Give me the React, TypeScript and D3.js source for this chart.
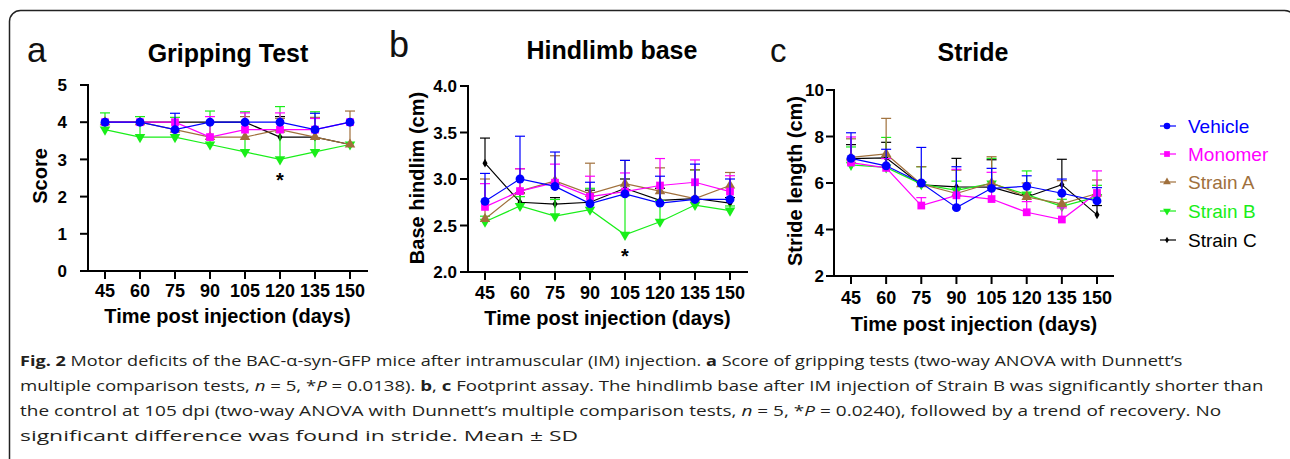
import React, { useEffect, useRef } from 'react';
import * as d3 from 'd3';

// sampling days (x axis)
const days = [45, 60, 75, 90, 105, 120, 135, 150];
const groups = ['Vehicle', 'Monomer', 'Strain A', 'Strain B', 'Strain C'];
const colors = ['#0000ff', '#ff00ff', '#a0703c', '#19ee19', '#000000'];

// a - gripping test score (rows follow groups)
const gripMean = [
  [4, 4, 3.8, 4, 4, 4, 3.8, 4],
  [4, 4, 4, 3.6, 3.8, 3.8, 3.8, 4],
  [4, 4, 3.8, 3.6, 3.6, 3.8, 3.6, 3.4],
  [3.8, 3.6, 3.6, 3.4, 3.2, 3.0, 3.2, 3.4],
  [4, 4, 4, 4, 4, 3.6, 3.6, 3.4],
];
const gripSD = [
  [0, 0, 0.44, 0, 0, 0, 0.44, 0],
  [0, 0, 0, 0.55, 0.45, 0.45, 0.3, 0],
  [0, 0, 0, 0, 0.55, 0.3, 0.53, 0.9],
  [0.45, 0.55, 0.53, 0.9, 1.08, 1.42, 1.08, 0],
  [0, 0, 0, 0, 0, 0.55, 0, 0],
];

// b - hindlimb base (cm)
const baseMean = [
  [2.76, 3.0, 2.92, 2.735, 2.84, 2.74, 2.78, 2.78],
  [2.7, 2.87, 2.96, 2.81, 2.865, 2.93, 2.965, 2.865],
  [2.57, 2.87, 2.98, 2.84, 2.95, 2.87, 2.79, 2.93],
  [2.54, 2.71, 2.6, 2.67, 2.4, 2.54, 2.72, 2.66],
  [3.17, 2.75, 2.73, 2.75, 2.9, 2.77, 2.79, 2.74],
];
const baseSD = [
  [0.3, 0.46, 0.37, 0.23, 0.36, 0.29, 0.38, 0.22],
  [0.25, 0.24, 0.2, 0.22, 0.2, 0.29, 0.24, 0.17],
  [0.43, 0.24, 0.27, 0.33, 0.25, 0.25, 0.31, 0.14],
  [0.06, 0.1, 0.18, 0.23, 0.42, 0.23, 0.38, 0.05],
  [0.27, 0.1, 0.07, 0.13, 0.1, 0.13, 0.31, 0.06],
];

// c - stride length (cm)
const strideMean = [
  [7.06, 6.74, 6.0, 4.94, 5.77, 5.86, 5.56, 5.23],
  [6.88, 6.65, 5.03, 5.47, 5.31, 4.74, 4.43, 5.57],
  [7.1, 7.25, 5.95, 5.55, 6.0, 5.4, 5.1, 5.55],
  [6.78, 6.67, 5.95, 5.68, 5.98, 5.5, 5.0, 5.4],
  [7.05, 7.08, 5.92, 5.83, 5.82, 5.4, 5.93, 4.63],
];
const strideSD = [
  [1.1, 0.71, 1.53, 1.76, 0.86, 0.45, 0.61, 0.57],
  [1.1, 0.4, 0.34, 1.12, 1.15, 0.46, 0.5, 0.95],
  [0.8, 1.53, 0.75, 1.0, 1.13, 0.6, 1.0, 0.58],
  [0.77, 1.29, 0.75, 0.4, 1.08, 1.02, 0.3, 0.5],
  [0.6, 0.67, 0.1, 1.23, 1.18, 0.1, 1.09, 0.4],
];

const gripTicks = [0, 1, 2, 3, 4, 5];
const baseTicks = [2.0, 2.5, 3.0, 3.5, 4.0];
const strideTicks = [2, 4, 6, 8, 10];

const captionLines = [
  [['b', 'Fig. 2'], ['', ' Motor deficits of the BAC-α-syn-GFP mice after intramuscular (IM) injection. '], ['b', 'a'], ['', ' Score of gripping tests (two-way ANOVA with Dunnett’s']],
  [['', 'multiple comparison tests, '], ['i', 'n'], ['', ' = 5, *'], ['i', 'P'], ['', ' = 0.0138). '], ['b', 'b'], ['', ', '], ['b', 'c'], ['', ' Footprint assay. The hindlimb base after IM injection of Strain B was significantly shorter than']],
  [['', 'the control at 105 dpi (two-way ANOVA with Dunnett’s multiple comparison tests, '], ['i', 'n'], ['', ' = 5, *'], ['i', 'P'], ['', ' = 0.0240), followed by a trend of recovery. No']],
  [['', 'significant difference was found in stride. Mean ± SD']],
];
const captionWidths = [1162, 1243, 1202, 558];

const FONT = 'Arial, "Liberation Sans", sans-serif';

export default function App() {
  const svgRef = useRef<SVGSVGElement>(null);

  useEffect(() => {
    const svg = d3.select(svgRef.current);
    svg.selectAll('*').remove();

    svg.append('rect')
      .attr('x', 9.5).attr('y', 10.5)
      .attr('width', 1286).attr('height', 470)
      .attr('rx', 11)
      .attr('fill', 'none').attr('stroke', '#222').attr('stroke-width', 1.5);

    const symbols = [
      { type: d3.symbolCircle, size: 62, rot: 0 },
      { type: d3.symbolSquare, size: 60, rot: 0 },
      { type: d3.symbolTriangle, size: 48, rot: 0 },
      { type: d3.symbolTriangle, size: 48, rot: 180 },
      { type: d3.symbolDiamond, size: 22, rot: 0 },
    ];

    const panels = [
      { letter: 'a', lx: 27, ly: 62, lsize: 35, title: 'Gripping Test', tx: 228, ty: 62,
        ax: 88, top: 85, bottom: 271, x0: 105, x1: 350, xEnd: 368,
        domain: [0, 5], ticks: gripTicks, fmt: d3.format('d'), labGap: 13,
        yLabel: 'Score', ylx: 40, yly: 176, xlab: 26, xtitle: 52,
        mean: gripMean, sd: gripSD, star: [120, 2.25] },
      { letter: 'b', lx: 389, ly: 57, lsize: 36, title: 'Hindlimb base', tx: 612, ty: 59,
        ax: 468, top: 86, bottom: 272, x0: 485, x1: 730, xEnd: 748,
        domain: [2, 4], ticks: baseTicks, fmt: d3.format('.1f'), labGap: 3,
        yLabel: 'Base hindlim (cm)', ylx: 417, yly: 178, xlab: 27, xtitle: 53,
        mean: baseMean, sd: baseSD, star: [105, 2.1] },
      { letter: 'c', lx: 770, ly: 62, lsize: 33, title: 'Stride', tx: 973, ty: 61,
        ax: 834, top: 90, bottom: 276, x0: 851, x1: 1097, xEnd: 1114,
        domain: [2, 10], ticks: strideTicks, fmt: d3.format('d'), labGap: 2,
        yLabel: 'Stride length (cm)', ylx: 795, yly: 181, xlab: 28, xtitle: 55,
        mean: strideMean, sd: strideSD, star: null },
    ];

    panels.forEach((p) => {
      const g = svg.append('g').attr('font-family', FONT);
      const x = d3.scaleLinear().domain([45, 150]).range([p.x0, p.x1]);
      const y = d3.scaleLinear().domain(p.domain).range([p.bottom, p.top]);

      g.append('text').attr('x', p.lx).attr('y', p.ly)
        .attr('font-size', p.lsize).attr('fill', '#111').text(p.letter);
      g.append('text').attr('x', p.tx).attr('y', p.ty)
        .attr('text-anchor', 'middle').attr('font-size', 25).attr('font-weight', 'bold')
        .text(p.title);

      // axes
      g.append('line').attr('x1', p.ax).attr('x2', p.ax).attr('y1', p.top - 1).attr('y2', p.bottom + 1)
        .attr('stroke', '#000').attr('stroke-width', 2);
      g.append('line').attr('x1', p.ax - 1).attr('x2', p.xEnd).attr('y1', p.bottom).attr('y2', p.bottom)
        .attr('stroke', '#000').attr('stroke-width', 2);

      p.ticks.forEach((t) => {
        g.append('line').attr('x1', p.ax - 8).attr('x2', p.ax).attr('y1', y(t)).attr('y2', y(t))
          .attr('stroke', '#000').attr('stroke-width', 2);
        g.append('text').attr('x', p.ax - 8 - p.labGap).attr('y', y(t)).attr('dy', '0.36em')
          .attr('text-anchor', 'end').attr('font-size', 17).attr('font-weight', 'bold')
          .text(p.fmt(t));
      });
      days.forEach((d) => {
        g.append('line').attr('x1', x(d)).attr('x2', x(d)).attr('y1', p.bottom).attr('y2', p.bottom + 8)
          .attr('stroke', '#000').attr('stroke-width', 2);
        g.append('text').attr('x', x(d)).attr('y', p.bottom + p.xlab)
          .attr('text-anchor', 'middle').attr('font-size', 18).attr('font-weight', 'bold')
          .text(d);
      });
      g.append('text').attr('x', (p.x0 + p.x1) / 2).attr('y', p.bottom + p.xtitle)
        .attr('text-anchor', 'middle').attr('font-size', 20).attr('font-weight', 'bold')
        .text('Time post injection (days)');
      g.append('text')
        .attr('transform', `translate(${p.ylx},${p.yly}) rotate(-90)`)
        .attr('dy', '0.36em').attr('text-anchor', 'middle')
        .attr('font-size', 20).attr('font-weight', 'bold').text(p.yLabel);

      const line = d3.line<number>().x((_, i) => x(days[i])).y((v) => y(v));

      for (let s = groups.length - 1; s >= 0; s--) {
        const col = colors[s];
        const sg = g.append('g');
        p.mean[s].forEach((m, i) => {
          const sd = p.sd[s][i];
          if (sd <= 0) return;
          const cx = x(days[i]);
          sg.append('line').attr('x1', cx).attr('x2', cx).attr('y1', y(m)).attr('y2', y(m + sd))
            .attr('stroke', col).attr('stroke-width', 1.2);
          sg.append('line').attr('x1', cx - 5).attr('x2', cx + 5).attr('y1', y(m + sd)).attr('y2', y(m + sd))
            .attr('stroke', col).attr('stroke-width', 1.2);
        });
        sg.append('path').attr('d', line(p.mean[s]))
          .attr('fill', 'none').attr('stroke', col).attr('stroke-width', 1.2);
        const sym = d3.symbol().type(symbols[s].type).size(symbols[s].size);
        p.mean[s].forEach((m, i) => {
          sg.append('path').attr('d', sym())
            .attr('transform', `translate(${x(days[i])},${y(m)}) rotate(${symbols[s].rot})`)
            .attr('fill', col);
        });
      }

      if (p.star) {
        g.append('text').attr('x', x(p.star[0])).attr('y', y(p.star[1]))
          .attr('text-anchor', 'middle').attr('font-size', 20).attr('font-weight', 'bold')
          .text('*');
      }
    });

    // legend
    const legendY = [126, 154, 182, 211, 240];
    const lg = svg.append('g').attr('font-family', FONT);
    groups.forEach((name, s) => {
      const yy = legendY[s];
      lg.append('line').attr('x1', 1160).attr('x2', 1176).attr('y1', yy).attr('y2', yy)
        .attr('stroke', colors[s]).attr('stroke-width', 1.2);
      const sym = d3.symbol().type(symbols[s].type).size(symbols[s].size * 0.55);
      lg.append('path').attr('d', sym())
        .attr('transform', `translate(1167,${yy}) rotate(${symbols[s].rot})`)
        .attr('fill', colors[s]);
      lg.append('text').attr('x', 1188).attr('y', yy).attr('dy', '0.36em')
        .attr('font-size', 19).attr('fill', colors[s]).text(name);
    });

    // caption: each line is measured, then squeezed to the width it has in the figure
    const cap = svg.append('g').attr('font-family', '"Open Sans", "Noto Sans", sans-serif')
      .attr('font-size', 15).attr('fill', '#231f20');
    captionLines.forEach((parts, li) => {
      const t = cap.append('text').attr('x', 0).attr('y', 0);
      parts.forEach(([st, str]) => {
        const ts = t.append('tspan').text(str);
        if (st === 'b') ts.attr('font-weight', 'bold');
        if (st === 'i') ts.attr('font-style', 'italic');
      });
      const node = t.node() as SVGTextElement;
      const w = node.getBBox().width || captionWidths[li];
      let sx = captionWidths[li] / w;
      const ty = 365.5 + li * 25;
      t.attr('transform', `translate(20,${ty}) scale(${sx},1)`);
      const r = node.getBoundingClientRect();
      if (r.width > 0) {
        sx *= captionWidths[li] / r.width;
        t.attr('transform', `translate(20,${ty}) scale(${sx},1)`);
      }
    });
  }, []);

  return (
    <svg ref={svgRef} width={1290} height={459}
      style={{ position: 'absolute', left: 0, top: 0, background: '#fff' }} />
  );
}
